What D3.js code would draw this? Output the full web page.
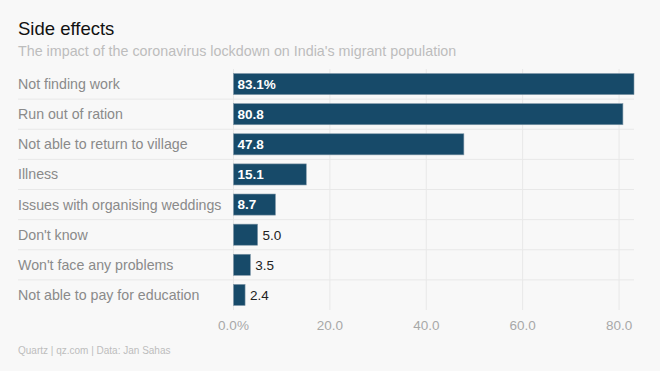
<!DOCTYPE html>
<meta charset="utf-8">
<script src="https://d3js.org/d3.v7.min.js"></script>
<style>
  body { margin: 0; background: #f8f8f8; }
  svg { font-family: "Liberation Sans", Arial, sans-serif; }
</style>
<div id="chart"></div>
<script>
  // data
  const categories = ["Not finding work", "Run out of ration", "Not able to return to village", "Illness",
    "Issues with organising weddings", "Don't know", "Won't face any problems", "Not able to pay for education"];
  const values = [83.1, 80.8, 47.8, 15.1, 8.7, 5.0, 3.5, 2.4];
  const ticks = [0, 20, 40, 60, 80];

  const W = 660, H = 371;
  const margin = {top: 69, right: 26, bottom: 61, left: 233.5};
  const width = W - margin.left - margin.right,
        height = H - margin.top - margin.bottom;

  const svg = d3.select("#chart").append("svg")
    .attr("width", W).attr("height", H);
  svg.append("rect").attr("width", W).attr("height", H).attr("fill", "#f8f8f8");

  svg.append("text").attr("x", 18).attr("y", 35)
    .style("font-size", "18.5px").attr("fill", "#111").text("Side effects");
  svg.append("text").attr("x", 18).attr("y", 56)
    .style("font-size", "14.3px").attr("fill", "#bdbdbd")
    .text("The impact of the coronavirus lockdown on India's migrant population");

  const g = svg.append("g").attr("transform", `translate(${margin.left},${margin.top})`);

  const x = d3.scaleLinear().domain([0, 83.1]).range([0, width]);
  const y = d3.scaleBand().domain(categories).range([0, height]).paddingInner(0.3).paddingOuter(0.15);

  // vertical grid
  g.selectAll(".vgrid").data(ticks).join("line")
    .attr("x1", d => x(d)).attr("x2", d => x(d))
    .attr("y1", 0).attr("y2", height)
    .attr("stroke", "#e8e8e8");

  // row separators
  const step = y.step();
  g.selectAll(".sep").data(categories.slice(1)).join("line")
    .attr("x1", 18 - margin.left).attr("x2", width)
    .attr("y1", d => y(d) - step * y.paddingInner() / 2)
    .attr("y2", d => y(d) - step * y.paddingInner() / 2)
    .attr("stroke", "#e8e8e8");

  // category labels
  g.selectAll(".cat").data(categories).join("text")
    .attr("x", 18 - margin.left).attr("y", d => y(d) + y.bandwidth() / 2)
    .attr("dy", "0.35em")
    .style("font-size", "14.2px").attr("fill", "#8a8a8a")
    .text(d => d);

  // bars
  g.selectAll(".bar").data(values).join("rect")
    .attr("x", x(0)).attr("y", (d, i) => y(categories[i]))
    .attr("width", d => x(d) - x(0)).attr("height", y.bandwidth())
    .attr("fill", "#174a69")
    .attr("stroke", "#7f97a8").attr("stroke-width", 0.6);

  // value labels
  g.selectAll(".val").data(values).join("text")
    .attr("x", d => d >= 8 ? x(0) + 4 : x(d) + 5)
    .attr("y", (d, i) => y(categories[i]) + y.bandwidth() / 2)
    .attr("dy", "0.36em")
    .style("font-size", "13.5px")
    .style("font-weight", (d) => d >= 8 ? "bold" : "normal")
    .attr("fill", d => d >= 8 ? "#fff" : "#222")
    .text((d, i) => d.toFixed(1) + (i === 0 ? "%" : ""));

  // x axis labels
  g.selectAll(".tick").data(ticks).join("text")
    .attr("x", d => x(d)).attr("y", height + 20)
    .attr("text-anchor", "middle")
    .style("font-size", "13.5px").attr("fill", "#a8a8a8")
    .text(d => d.toFixed(1) + (d === 0 ? "%" : ""));

  svg.append("text").attr("x", 18).attr("y", 354)
    .style("font-size", "10px").attr("fill", "#bdbdbd")
    .text("Quartz | qz.com | Data: Jan Sahas");
</script>
